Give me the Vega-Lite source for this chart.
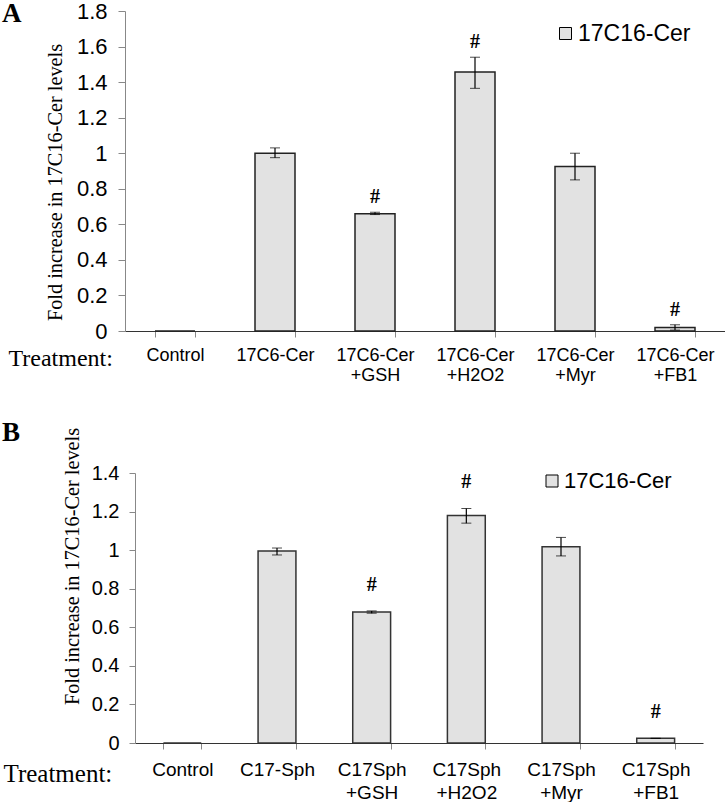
{
  "$schema": "https://vega.github.io/schema/vega-lite/v6.json",
  "padding": {"left": 2, "top": 0, "right": 0, "bottom": 0},
  "background": "white",
  "spacing": 35,
  "config": {"view": {"stroke": null}, "font": "Liberation Sans"},
  "resolve": {"scale": {"fill": "independent"}, "legend": {"fill": "independent"}},
  "vconcat": [
    {
      "width": 600,
      "height": 320,
      "title": {"text": "A", "anchor": "start", "frame": "group", "font": "Liberation Serif", "fontSize": 27, "fontWeight": "bold", "color": "black", "dx": -123, "dy": 28, "baseline": "top", "offset": 0},
      "data": {"values": [
        {"treatment": "Control", "series": "17C16-Cer", "value": 0, "lo": null, "hi": null, "sig": ""},
        {"treatment": "17C6-Cer", "series": "17C16-Cer", "value": 1.0, "lo": 0.975, "hi": 1.03, "sig": ""},
        {"treatment": "17C6-Cer +GSH", "series": "17C16-Cer", "value": 0.66, "lo": 0.655, "hi": 0.668, "sig": "#"},
        {"treatment": "17C6-Cer +H2O2", "series": "17C16-Cer", "value": 1.457, "lo": 1.365, "hi": 1.54, "sig": "#"},
        {"treatment": "17C6-Cer +Myr", "series": "17C16-Cer", "value": 0.925, "lo": 0.85, "hi": 1.0, "sig": ""},
        {"treatment": "17C6-Cer +FB1", "series": "17C16-Cer", "value": 0.02, "lo": 0.005, "hi": 0.035, "sig": "#"}
      ]},
      "encoding": {
        "x": {
          "field": "treatment", "type": "nominal", "sort": null,
          "scale": {"paddingInner": 0.6, "paddingOuter": 0.3},
          "axis": {
            "title": "Treatment:", "titleFont": "Liberation Serif", "titleFontSize": 24, "titleFontWeight": "normal", "titleColor": "black",
            "titleX": -117, "titleY": 27, "titleAlign": "left", "titleBaseline": "middle", "titleAnchor": null,
            "labelExpr": "datum.value ? split(datum.value, ' ') : ''", "labelAngle": 0, "labelFont": "Liberation Sans", "labelFontSize": 18, "labelColor": "black",
            "labelPadding": 9, "labelLineHeight": 20, "tickBand": "extent", "tickSize": 6, "tickColor": "#888", "domainColor": "#333", "domainWidth": 1.2
          }
        }
      },
      "layer": [
        {
          "mark": {"type": "bar", "fill": "#e2e2e2", "stroke": "#222", "strokeWidth": 1.5},
          "encoding": {
            "y": {"field": "value", "type": "quantitative", "scale": {"domain": [0, 1.8]}, "title": "Fold increase in 17C16-Cer levels",
              "axis": {"titleFont": "Liberation Serif", "titleFontSize": 20.3, "titleFontWeight": "normal", "titleColor": "black", "titleY": 171,
                "values": [0, 0.2, 0.4, 0.6, 0.8, 1, 1.2, 1.4, 1.6, 1.8], "format": "~g", "labelFont": "Liberation Sans", "labelFontSize": 22, "labelColor": "black", "labelPadding": 11, "labelOverlap": false,
                "tickSize": 7, "tickColor": "#888", "domainColor": "#888", "grid": false, "titlePadding": 11}},
            "fill": {"field": "series", "type": "nominal", "scale": {"range": ["#e2e2e2"]},
              "legend": {"orient": "none", "legendX": 429, "legendY": 11, "title": null, "labelFont": "Liberation Sans", "labelFontSize": 23, "labelColor": "black",
                "symbolType": "square", "symbolSize": 144, "symbolStrokeColor": "black", "symbolStrokeWidth": 1, "labelOffset": 1, "padding": 0}}
          }
        },
        {
          "mark": {"type": "errorbar", "color": "black", "ticks": {"size": 10, "color": "black"}, "rule": {"strokeWidth": 1.2}},
          "encoding": {
            "y": {"field": "lo", "type": "quantitative", "title": "Fold increase in 17C16-Cer levels",
              "axis": {"titleFont": "Liberation Serif", "titleFontSize": 20.3, "titleFontWeight": "normal", "titleColor": "black", "titleY": 171,
                "values": [0, 0.2, 0.4, 0.6, 0.8, 1, 1.2, 1.4, 1.6, 1.8], "format": "~g", "labelFont": "Liberation Sans", "labelFontSize": 22, "labelColor": "black", "labelPadding": 11, "labelOverlap": false,
                "tickSize": 7, "tickColor": "#888", "domainColor": "#888", "grid": false, "titlePadding": 11}},
            "y2": {"field": "hi"}
          }
        },
        {
          "mark": {"type": "text", "font": "Liberation Serif", "fontWeight": "bold", "fontSize": 20, "dy": -15, "baseline": "middle", "color": "black"},
          "encoding": {
            "y": {"field": "hi", "type": "quantitative", "title": "Fold increase in 17C16-Cer levels",
              "axis": {"titleFont": "Liberation Serif", "titleFontSize": 20.3, "titleFontWeight": "normal", "titleColor": "black", "titleY": 171,
                "values": [0, 0.2, 0.4, 0.6, 0.8, 1, 1.2, 1.4, 1.6, 1.8], "format": "~g", "labelFont": "Liberation Sans", "labelFontSize": 22, "labelColor": "black", "labelPadding": 11, "labelOverlap": false,
                "tickSize": 7, "tickColor": "#888", "domainColor": "#888", "grid": false, "titlePadding": 11}},
            "text": {"field": "sig"}
          }
        }
      ]
    },
    {
      "width": 578,
      "height": 270,
      "title": {"text": "B", "anchor": "start", "frame": "group", "font": "Liberation Serif", "fontSize": 27, "fontWeight": "bold", "color": "black", "dx": -123, "dy": 20, "baseline": "top", "offset": 0},
      "data": {"values": [
        {"treatment": "Control", "series": "17C16-Cer", "value": 0, "lo": null, "hi": null, "sig": ""},
        {"treatment": "C17-Sph", "series": "17C16-Cer", "value": 0.995, "lo": 0.975, "hi": 1.011, "sig": ""},
        {"treatment": "C17Sph +GSH", "series": "17C16-Cer", "value": 0.679, "lo": 0.673, "hi": 0.685, "sig": "#"},
        {"treatment": "C17Sph +H2O2", "series": "17C16-Cer", "value": 1.18, "lo": 1.14, "hi": 1.216, "sig": "#"},
        {"treatment": "C17Sph +Myr", "series": "17C16-Cer", "value": 1.018, "lo": 0.97, "hi": 1.066, "sig": ""},
        {"treatment": "C17Sph +FB1", "series": "17C16-Cer", "value": 0.024, "lo": 0.024, "hi": 0.024, "sig": "#"}
      ]},
      "encoding": {
        "x": {
          "field": "treatment", "type": "nominal", "sort": null,
          "scale": {"paddingInner": 0.6, "paddingOuter": 0.3, "range": [10, 578]},
          "axis": {
            "title": "Treatment:", "titleFont": "Liberation Serif", "titleFontSize": 25, "titleFontWeight": "normal", "titleColor": "black",
            "titleX": -122, "titleY": 30, "titleAlign": "left", "titleBaseline": "middle", "titleAnchor": null,
            "labelExpr": "datum.value ? split(datum.value, ' ') : ''", "labelAngle": 0, "labelFont": "Liberation Sans", "labelFontSize": 19, "labelColor": "black",
            "labelPadding": 11, "labelLineHeight": 23, "tickBand": "extent", "tickSize": 6, "tickColor": "#888", "domainColor": "#333", "domainWidth": 1.2
          }
        }
      },
      "layer": [
        {
          "mark": {"type": "bar", "fill": "#e2e2e2", "stroke": "#333", "strokeWidth": 1.5},
          "encoding": {
            "y": {"field": "value", "type": "quantitative", "scale": {"domain": [0, 1.4]}, "title": "Fold increase in 17C16-Cer levels",
              "axis": {"offset": -10, "titleFont": "Liberation Serif", "titleFontSize": 20.3, "titleFontWeight": "normal", "titleColor": "black", "titleY": 93,
                "values": [0, 0.2, 0.4, 0.6, 0.8, 1, 1.2, 1.4], "format": "~g", "labelFont": "Liberation Sans", "labelFontSize": 20, "labelColor": "black", "labelPadding": 10, "labelOverlap": false,
                "tickSize": 6, "tickColor": "#888", "domainColor": "#888", "grid": false, "titlePadding": 9}},
            "fill": {"field": "series", "type": "nominal", "scale": {"range": ["#e2e2e2"]},
              "legend": {"orient": "none", "legendX": 416, "legendY": -3, "title": null, "labelFont": "Liberation Sans", "labelFontSize": 22, "labelColor": "black",
                "symbolType": "square", "symbolSize": 144, "symbolStrokeColor": "black", "symbolStrokeWidth": 1, "labelOffset": 1, "padding": 0}}
          }
        },
        {
          "mark": {"type": "errorbar", "color": "black", "ticks": {"size": 10, "color": "black"}, "rule": {"strokeWidth": 1.2}},
          "encoding": {
            "y": {"field": "lo", "type": "quantitative", "title": "Fold increase in 17C16-Cer levels",
              "axis": {"offset": -10, "titleFont": "Liberation Serif", "titleFontSize": 20.3, "titleFontWeight": "normal", "titleColor": "black", "titleY": 93,
                "values": [0, 0.2, 0.4, 0.6, 0.8, 1, 1.2, 1.4], "format": "~g", "labelFont": "Liberation Sans", "labelFontSize": 20, "labelColor": "black", "labelPadding": 10, "labelOverlap": false,
                "tickSize": 6, "tickColor": "#888", "domainColor": "#888", "grid": false, "titlePadding": 9}},
            "y2": {"field": "hi"}
          }
        },
        {
          "mark": {"type": "text", "font": "Liberation Serif", "fontWeight": "bold", "fontSize": 20, "dy": -26, "baseline": "middle", "color": "black"},
          "encoding": {
            "y": {"field": "hi", "type": "quantitative", "title": "Fold increase in 17C16-Cer levels",
              "axis": {"offset": -10, "titleFont": "Liberation Serif", "titleFontSize": 20.3, "titleFontWeight": "normal", "titleColor": "black", "titleY": 93,
                "values": [0, 0.2, 0.4, 0.6, 0.8, 1, 1.2, 1.4], "format": "~g", "labelFont": "Liberation Sans", "labelFontSize": 20, "labelColor": "black", "labelPadding": 10, "labelOverlap": false,
                "tickSize": 6, "tickColor": "#888", "domainColor": "#888", "grid": false, "titlePadding": 9}},
            "text": {"field": "sig"}
          }
        }
      ]
    }
  ]
}
